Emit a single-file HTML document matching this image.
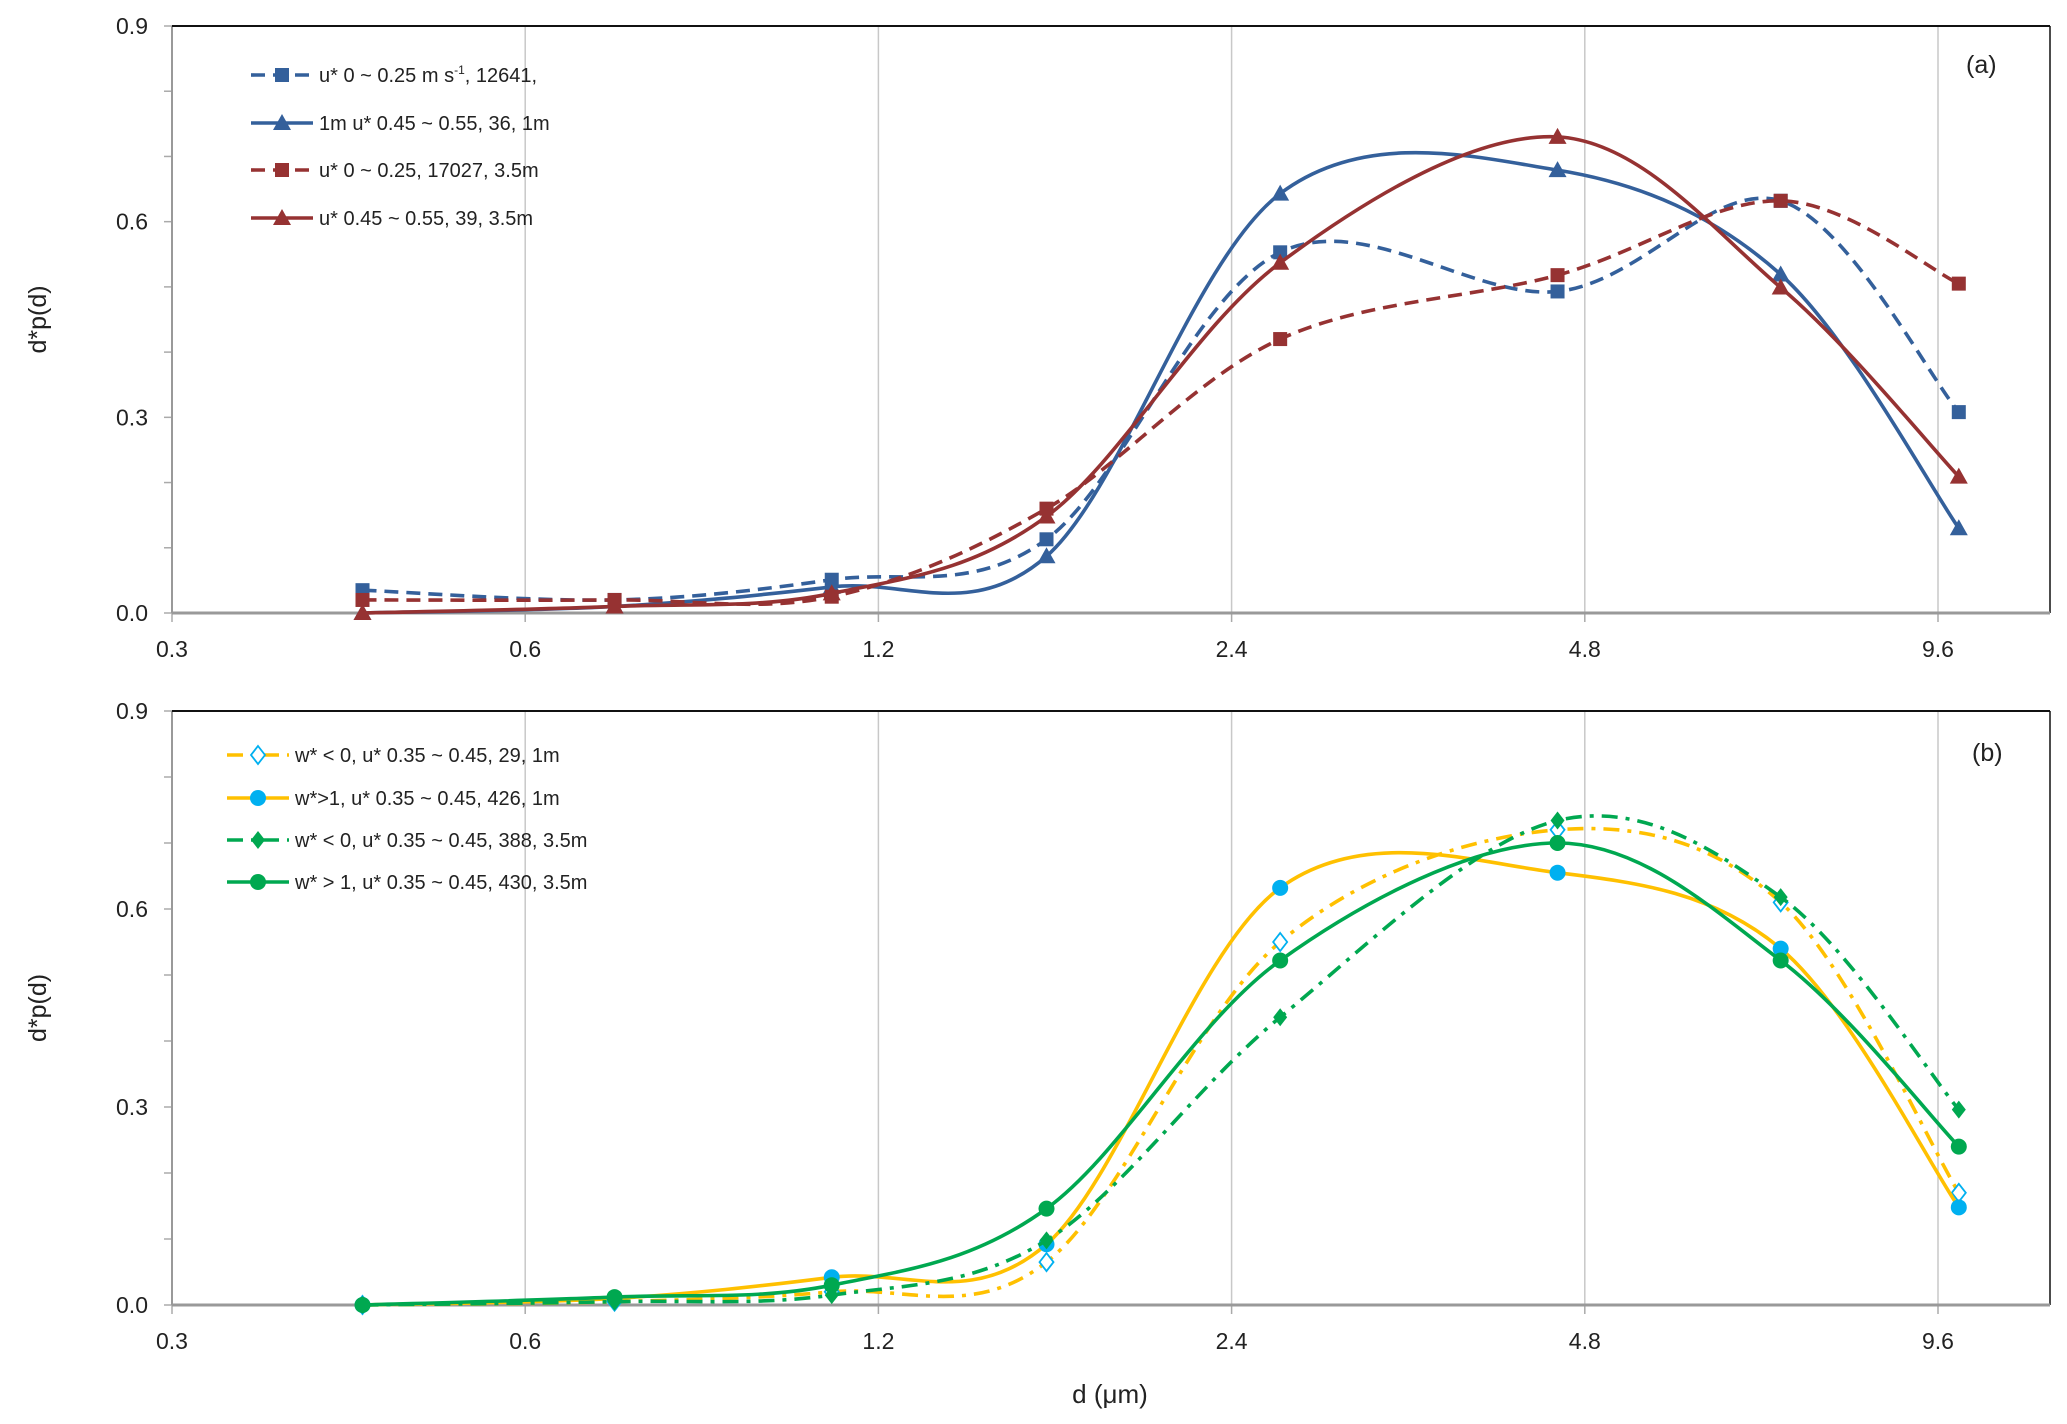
<!DOCTYPE html>
<html><head><meta charset="utf-8"><style>
html,body{margin:0;padding:0;background:#fff;}
svg{display:block;font-family:"Liberation Sans",sans-serif;}
</style></head><body>
<svg id="chart" width="2067" height="1424" viewBox="0 0 2067 1424"></svg>
<script>
const diameters = [0.436, 0.715, 1.095, 1.669, 2.64, 4.55, 7.05, 10.0];
const xTicks = [0.3, 0.6, 1.2, 2.4, 4.8, 9.6];
const yTicks = [0.0, 0.3, 0.6, 0.9];
// panel a
const aBlueSq = [0.035, 0.02, 0.051, 0.113, 0.553, 0.493, 0.632, 0.308];
const aBlueTri = [0.0, 0.01, 0.04, 0.087, 0.643, 0.679, 0.519, 0.13];
const aRedSq = [0.02, 0.02, 0.025, 0.16, 0.42, 0.518, 0.632, 0.505];
const aRedTri = [0.0, 0.01, 0.03, 0.148, 0.537, 0.73, 0.499, 0.209];
// panel b
const bYelDia = [0.0, 0.005, 0.02, 0.065, 0.55, 0.72, 0.61, 0.17];
const bYelCirc = [0.0, 0.01, 0.042, 0.092, 0.632, 0.655, 0.54, 0.148];
const bGrnDia = [0.0, 0.005, 0.015, 0.098, 0.436, 0.734, 0.618, 0.296];
const bGrnCirc = [0.0, 0.012, 0.03, 0.146, 0.522, 0.7, 0.522, 0.24];

const NS = "http://www.w3.org/2000/svg";
const svg = document.getElementById('chart');
function mk(tag, attrs, parent) {
  const e = document.createElementNS(NS, tag);
  for (const k in attrs) e.setAttribute(k, attrs[k]);
  (parent || svg).appendChild(e);
  return e;
}
const L = 172, R = 2050;
const xs = d => L + Math.log2(d / 0.3) * 353.2;

function smoothPath(pts) {
  let p = `M${pts[0][0]},${pts[0][1]}`;
  for (let i = 0; i < pts.length - 1; i++) {
    const p0 = pts[Math.max(0, i - 1)], p1 = pts[i], p2 = pts[i + 1], p3 = pts[Math.min(pts.length - 1, i + 2)];
    const t = 1 / 6;
    const c1 = [p1[0] + (p2[0] - p0[0]) * t, p1[1] + (p2[1] - p0[1]) * t];
    const c2 = [p2[0] - (p3[0] - p1[0]) * t, p2[1] - (p3[1] - p1[1]) * t];
    p += ` C${c1[0]},${c1[1]} ${c2[0]},${c2[1]} ${p2[0]},${p2[1]}`;
  }
  return p;
}
function marker(g, type, x, y, color, fill) {
  let e;
  if (type === 'sq') e = mk('rect', {x: x - 7, y: y - 7, width: 14, height: 14, fill: color}, g);
  else if (type === 'tri') e = mk('polygon', {points: `${x},${y-9} ${x+9},${y+7} ${x-9},${y+7}`, fill: color}, g);
  else if (type === 'dia') e = mk('polygon', {points: `${x},${y-9} ${x+7},${y} ${x},${y+9} ${x-7},${y}`, fill: fill || color, stroke: fill ? color : 'none', 'stroke-width': 1.8}, g);
  else e = mk('circle', {cx: x, cy: y, r: 8, fill: color}, g);
  
  
}

function panel(name, top, bottom, series, legX, legRows, tag, tagPos) {
  const ys = v => bottom - v / 0.9 * (bottom - top);
  const g = mk('g', {});
  
  
  xTicks.forEach(t => {
    const x = xs(t);
    if (t > 0.3) mk('line', {x1: x, y1: top, x2: x, y2: bottom, stroke: '#c8c8c8', 'stroke-width': 1.5}, g);
    mk('line', {x1: x, y1: bottom, x2: x, y2: bottom + 9, stroke: '#aaa', 'stroke-width': 1.5}, g);
    const tx = mk('text', {x: x, y: bottom + 44, 'font-size': 23, 'text-anchor': 'middle', fill: '#222'}, g);
    tx.textContent = t.toFixed(1);
    
    
  });
  for (let i = 0; i <= 9; i++) {
    const y = ys(i * 0.1);
    mk('line', {x1: L - 8, y1: y, x2: L, y2: y, stroke: '#aaa', 'stroke-width': 1.5}, g);
  }
  yTicks.forEach(t => {
    const tx = mk('text', {x: L - 24, y: ys(t) + 8, 'font-size': 23, 'text-anchor': 'end', fill: '#222'}, g);
    tx.textContent = t.toFixed(1);
    
    
  });
  mk('line', {x1: L, y1: top, x2: L, y2: bottom, stroke: '#999', 'stroke-width': 2}, g);
  mk('line', {x1: L, y1: top, x2: R, y2: top, stroke: '#111', 'stroke-width': 2}, g);
  mk('line', {x1: R, y1: top, x2: R, y2: bottom, stroke: '#111', 'stroke-width': 1.5}, g);
  mk('line', {x1: L, y1: bottom, x2: R, y2: bottom, stroke: '#999', 'stroke-width': 3}, g);
  const yl = mk('text', {x: 0, y: 0, 'font-size': 25, 'text-anchor': 'middle', fill: '#222', transform: `translate(46,${(top + bottom) / 2}) rotate(-90)`}, g);
  yl.textContent = 'd*p(d)';
  
  
  const tg = mk('text', {x: tagPos[0], y: tagPos[1], 'font-size': 25, fill: '#222'}, g);
  tg.textContent = tag;
  
  

  series.forEach((s, si) => {
    const sg = mk('g', {}, g);
    
    
    const pts = s.data.map((v, i) => [xs(diameters[i]), ys(v)]);
    mk('path', {d: smoothPath(pts), fill: 'none', stroke: s.color, 'stroke-width': 3.6, 'stroke-dasharray': s.dash || 'none'}, sg);
    pts.forEach(p => marker(sg, s.m, p[0], p[1], s.mcolor || s.color, s.mfill));
    const ly = legRows[si];
    const lg = mk('g', {}, g);
    
    
    mk('line', {x1: legX, y1: ly, x2: legX + 62, y2: ly, stroke: s.color, 'stroke-width': 3.6, 'stroke-dasharray': s.dash || 'none'}, lg);
    marker(lg, s.m, legX + 31, ly, s.mcolor || s.color, s.mfill);
    const lt = mk('text', {x: legX + 68, y: ly + 7, 'font-size': 20, fill: '#222'}, lg);
    lt.innerHTML = s.label;
  });
}

const blue = '#34609b', red = '#963232', yel = '#ffc000', cyan = '#00b0f0', grn = '#00a850';
panel('panel-a', 26, 613, [
  {key: 'blue-sq', data: aBlueSq, color: blue, m: 'sq', dash: '14 8', label: 'u* 0 ~ 0.25 m s<tspan font-size="12" dy="-8">-1</tspan><tspan dy="8">, 12641,</tspan>'},
  {key: 'blue-tri', data: aBlueTri, color: blue, m: 'tri', label: '1m u* 0.45 ~ 0.55, 36, 1m'},
  {key: 'red-sq', data: aRedSq, color: red, m: 'sq', dash: '14 8', label: 'u* 0 ~ 0.25, 17027, 3.5m'},
  {key: 'red-tri', data: aRedTri, color: red, m: 'tri', label: 'u* 0.45 ~ 0.55, 39, 3.5m'}
], 251, [75, 123, 170, 218], '(a)', [1966, 73]);
panel('panel-b', 711, 1305, [
  {key: 'yellow-dia', data: bYelDia, color: yel, m: 'dia', dash: '16 8 4 8', mcolor: cyan, mfill: '#fff', label: 'w* &lt; 0, u* 0.35 ~ 0.45, 29, 1m'},
  {key: 'yellow-circ', data: bYelCirc, color: yel, m: 'circ', mcolor: cyan, label: 'w*&gt;1, u* 0.35 ~ 0.45, 426, 1m'},
  {key: 'green-dia', data: bGrnDia, color: grn, m: 'dia', dash: '16 8 4 8', label: 'w* &lt; 0, u* 0.35 ~ 0.45, 388, 3.5m'},
  {key: 'green-circ', data: bGrnCirc, color: grn, m: 'circ', label: 'w* &gt; 1, u* 0.35 ~ 0.45, 430, 3.5m'}
], 227, [755, 798, 840, 882], '(b)', [1972, 761]);

const xt = mk('text', {x: 1110, y: 1403, 'font-size': 26, 'text-anchor': 'middle', fill: '#222'});
xt.textContent = 'd (μm)';


</script>
</body></html>
